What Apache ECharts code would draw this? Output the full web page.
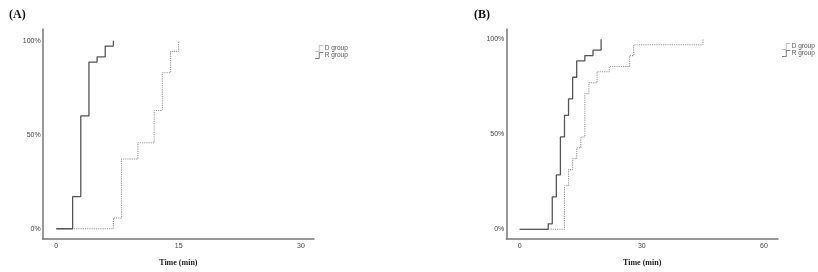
<!DOCTYPE html>
<html>
<head>
<meta charset="utf-8">
<script src="https://cdn.jsdelivr.net/npm/echarts@6/dist/echarts.min.js"></script>
<style>html,body{margin:0;padding:0;background:#fff}#c{width:818px;height:272px}</style>
</head>
<body>
<div id="c"></div>
<script>
// Panel A data (time in min, cumulative %)
var aRTime = [0, 2, 3, 4, 5, 6, 7];
var aRPct  = [0, 17.1, 60, 88.6, 91.4, 97.1, 100];
var aDTime = [0, 7, 8, 10, 12, 13, 14, 15];
var aDPct  = [0, 5.7, 37.1, 45.7, 62.9, 82.9, 94.3, 100];
// Panel B data
var bRTime = [0, 7, 8, 9, 10, 11, 12, 13, 14, 16, 18, 20];
var bRPct  = [0, 2.9, 17.1, 28.6, 48.6, 60, 68.6, 80, 88.6, 91.4, 94.3, 100];
var bDTime = [0, 11, 12, 13, 14, 15, 16, 17, 19, 22, 27, 28, 45];
var bDPct  = [0, 22.9, 31.4, 37.1, 42.9, 48.6, 71.4, 77.1, 82.9, 85.7, 91.4, 97.1, 100];
// Tick labels
var aXTicks = [0, 15, 30];
var bXTicks = [0, 30, 60];
var yTicks = [0, 50, 100];
var panelLabels = ['(A)', '(B)'];
var seriesNames = ['D group', 'R group'];
var xAxisTitle = 'Time (min)';

function pairs(t, p) { return t.map(function (v, i) { return [v, p[i]]; }); }

var axisCol = '#777';
var labelStyle = { color: '#444', fontSize: 7, fontFamily: 'Liberation Sans Narrow, Liberation Sans, Arial' };

function xAxis(grid, min, max, ticks) {
  return {
    type: 'value', gridIndex: grid, min: min, max: max,
    axisLine: { show: true, onZero: false, lineStyle: { color: axisCol, width: 1.5 } },
    axisTick: { show: false }, splitLine: { show: false },
    axisLabel: Object.assign({ customValues: ticks, margin: 4 }, labelStyle),
    name: xAxisTitle, nameLocation: 'middle', nameGap: 20,
    nameTextStyle: { color: '#222', fontSize: 8, fontWeight: 'bold', fontFamily: 'Liberation Serif, DejaVu Serif, serif' }
  };
}
function yAxis(grid, min, max) {
  return {
    type: 'value', gridIndex: grid, min: min, max: max,
    axisLine: { show: true, onZero: false, lineStyle: { color: axisCol, width: 1.5 } },
    axisTick: { show: false }, splitLine: { show: false },
    axisLabel: Object.assign({ customValues: yTicks, margin: 2, formatter: function (v) { return v + '%'; } }, labelStyle)
  };
}
var rStyle = { color: '#555', width: 1.3, type: 'solid' };
var dStyle = { color: '#999', width: 1.1, type: [1.2, 1] };
function ser(name, xi, t, p, ls) {
  return {
    name: name, type: 'line', xAxisIndex: xi, yAxisIndex: xi, step: 'end',
    data: pairs(t, p), showSymbol: false, symbol: 'none',
    lineStyle: ls, itemStyle: { color: ls.color }, animation: false, silent: true
  };
}
var stepIcon = 'path://M0,9 L6,9 L6,0 L13,0 L13,1.2 L7.2,1.2 L7.2,10.2 L0,10.2 Z';
function legend(left, top) {
  return {
    left: left, top: top, orient: 'vertical', itemGap: 0, itemWidth: 9, itemHeight: 6.5,
    padding: 0, selectedMode: false,
    data: [{ name: seriesNames[0], icon: stepIcon, itemStyle: { color: '#aaa' } },
           { name: seriesNames[1], icon: stepIcon, itemStyle: { color: '#555' } }],
    textStyle: { color: '#555', fontSize: 6.5, fontFamily: 'Liberation Sans Narrow, Liberation Sans, Arial', padding: [0, 0, 0, -4] }
  };
}

var chart = echarts.init(document.getElementById('c'), null, { renderer: 'canvas' });
chart.setOption({
  backgroundColor: '#fff',
  animation: false,
  title: [
    { text: panelLabels[0], left: 4, top: 4, textStyle: { fontSize: 12, fontWeight: 'bold', color: '#111', fontFamily: 'Liberation Serif, DejaVu Serif, serif' } },
    { text: panelLabels[1], left: 469, top: 4, textStyle: { fontSize: 12, fontWeight: 'bold', color: '#111', fontFamily: 'Liberation Serif, DejaVu Serif, serif' } }
  ],
  legend: [legend(315, 45), legend(782, 43)],
  grid: [
    { left: 42.7, top: 29, width: 271.3, height: 209.7 },
    { left: 506.3, top: 29, width: 271.7, height: 210.7 }
  ],
  xAxis: [xAxis(0, -1.67, 31.6, aXTicks), xAxis(1, -3.29, 63.44, bXTicks)],
  yAxis: [yAxis(0, -5.3, 106.2), yAxis(1, -5.1, 105.4)],
  series: [
    ser(seriesNames[0], 0, aDTime, aDPct, dStyle),
    ser(seriesNames[1], 0, aRTime, aRPct, rStyle),
    ser(seriesNames[0], 1, bDTime, bDPct, dStyle),
    ser(seriesNames[1], 1, bRTime, bRPct, rStyle)
  ]
});
</script>
</body>
</html>
